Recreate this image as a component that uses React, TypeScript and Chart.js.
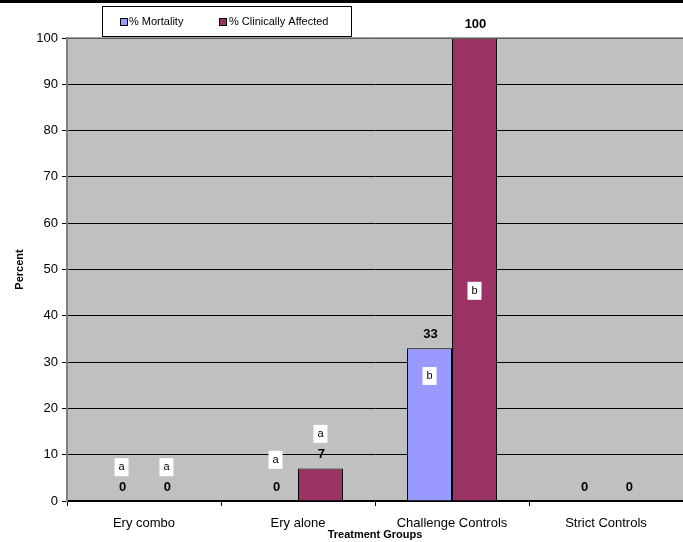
import React, { useEffect, useRef } from "react";
import { Chart, registerables } from "chart.js";

Chart.register(...registerables);

const categories = ["Ery combo", "Ery alone", "Challenge Controls", "Strict Controls"];
const mortality = [0, 0, 33, 0];
const clinical = [0, 7, 100, 0];
const mortalityLetters = ["a", "a", "b", ""];
const mortalityLetterAt = [7.3, 8.9, 27.0, 0];
const clinicalLetters = ["a", "a", "b", ""];
const clinicalLetterAt = [7.3, 14.5, 45.4, 0];
const seriesNames = ["% Mortality", "% Clinically Affected"];
const seriesColors = ["#9999FF", "#993366"];
const yTicks = [0, 10, 20, 30, 40, 50, 60, 70, 80, 90, 100];

const FONT = "'Liberation Sans', Arial, sans-serif";

const decorPlugin = {
  id: "decor",
  beforeDraw(chart: any) {
    const { ctx, chartArea } = chart;
    ctx.save();
    ctx.fillStyle = "#ffffff";
    ctx.fillRect(0, 0, chart.width, chart.height);
    ctx.fillStyle = "#000000";
    ctx.fillRect(0, 0, chart.width, 3);
    ctx.fillStyle = "#c0c0c0";
    ctx.fillRect(chartArea.left, chartArea.top, chartArea.right - chartArea.left, chartArea.bottom - chartArea.top);
    ctx.restore();
  },
  afterDraw(chart: any) {
    const { ctx, chartArea } = chart;
    ctx.save();
    ctx.strokeStyle = "#808080";
    ctx.lineWidth = 1.5;
    ctx.beginPath();
    ctx.moveTo(chartArea.left, chartArea.top);
    ctx.lineTo(chartArea.right, chartArea.top);
    ctx.stroke();

    // legend
    const lx = 102, ly = 6, lw = 249, lh = 30;
    ctx.fillStyle = "#ffffff";
    ctx.fillRect(lx, ly, lw, lh);
    ctx.strokeStyle = "#000000";
    ctx.lineWidth = 1;
    ctx.strokeRect(lx + 0.5, ly + 0.5, lw, lh);
    const items = [
      { x: 120, tx: 129 },
      { x: 219, tx: 229 },
    ];
    ctx.font = `11px ${FONT}`;
    ctx.textBaseline = "middle";
    ctx.textAlign = "left";
    items.forEach((it, i) => {
      ctx.fillStyle = seriesColors[i];
      ctx.fillRect(it.x, 18, 7, 7);
      ctx.strokeStyle = "#000";
      ctx.strokeRect(it.x + 0.5, 18.5, 7, 7);
      ctx.fillStyle = "#000";
      ctx.fillText(seriesNames[i], it.tx, 22);
    });

    const yScale = chart.scales.y;
    const letterSets = [
      { letters: mortalityLetters, at: mortalityLetterAt },
      { letters: clinicalLetters, at: clinicalLetterAt },
    ];
    chart.data.datasets.forEach((ds: any, di: number) => {
      const meta = chart.getDatasetMeta(di);
      meta.data.forEach((bar: any, i: number) => {
        const v = ds.data[i];
        ctx.font = `bold 13px ${FONT}`;
        ctx.fillStyle = "#000";
        ctx.textAlign = "center";
        ctx.textBaseline = "middle";
        ctx.fillText(String(v), bar.x + 1, bar.y - 14);
        const letter = letterSets[di].letters[i];
        if (letter) {
          const cy = yScale.getPixelForValue(letterSets[di].at[i]);
          ctx.fillStyle = "#ffffff";
          ctx.fillRect(bar.x - 7, cy - 9, 14, 18);
          ctx.fillStyle = "#000";
          ctx.font = `11px ${FONT}`;
          ctx.fillText(letter, bar.x, cy);
        }
      });
    });
    ctx.restore();
  },
};

export default function App() {
  const ref = useRef<HTMLCanvasElement>(null);
  useEffect(() => {
    document.body.style.margin = "0";
    const chart = new Chart(ref.current as HTMLCanvasElement, {
      type: "bar",
      data: {
        labels: categories,
        datasets: [
          {
            label: seriesNames[0],
            data: mortality,
            backgroundColor: seriesColors[0],
            borderColor: "#000000",
            borderWidth: 1,
          },
          {
            label: seriesNames[1],
            data: clinical,
            backgroundColor: seriesColors[1],
            borderColor: "#000000",
            borderWidth: 1,
          },
        ],
      },
      options: {
        animation: false,
        responsive: false,
        devicePixelRatio: 1,
        layout: { padding: { top: 38, right: 0, left: 0, bottom: 0 } },
        plugins: { legend: { display: false }, tooltip: { enabled: false } },
        datasets: { bar: { categoryPercentage: 0.584, barPercentage: 1 } },
        scales: {
          x: {
            grid: {
              offset: true,
              drawOnChartArea: false,
              color: "#000000",
              tickLength: 5,
            },
            border: { color: "#000000", width: 1.5 },
            ticks: { color: "#000", font: { family: FONT, size: 13 }, padding: 10, maxRotation: 0 },
            title: {
              display: true,
              text: "Treatment Groups",
              color: "#000",
              font: { family: FONT, size: 11, weight: "bold" },
              padding: { top: -4, bottom: 0 },
            },
            afterFit(scale: any) {
              scale.height = 41;
            },
          },
          y: {
            min: 0,
            max: 100,
            afterBuildTicks(scale: any) {
              scale.ticks = yTicks.map((v) => ({ value: v }));
            },
            grid: { color: "#000000", tickLength: 5, lineWidth: 1 },
            border: { color: "#808080", width: 2 },
            ticks: { color: "#000", font: { family: FONT, size: 13 }, padding: 4 },
            title: {
              display: true,
              text: "Percent",
              color: "#000",
              font: { family: FONT, size: 11, weight: "bold" },
              padding: { top: 13, bottom: 0 },
            },
            afterFit(scale: any) {
              scale.width = 67;
            },
          },
        },
      },
      plugins: [decorPlugin],
    });
    return () => chart.destroy();
  }, []);
  return (
    <div style={{ position: "absolute", left: 0, top: 0 }}>
      <canvas ref={ref} width={683} height={542} />
    </div>
  );
}
